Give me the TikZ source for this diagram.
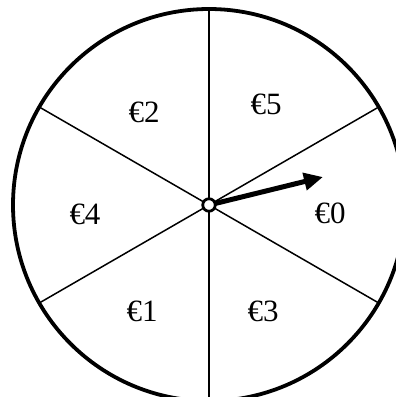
\documentclass[tikz,border=0pt]{standalone}
\usepackage{fontspec}
\setmainfont{Liberation Serif}
\usetikzlibrary{arrows.meta,calc}
\begin{document}
\begin{tikzpicture}[x=1pt,y=-1pt,
  lbl/.style={font=\fontsize{31}{33}\selectfont, inner sep=0pt},
  spoke/.style={line width=1.5pt},
  rim/.style={line width=3.8pt}]
\useasboundingbox (0,0) rectangle (396,397);
\fill[white] (0,0) rectangle (396,397);
\coordinate (c) at (209,205);
\draw[rim] (c) circle[radius=196];
\foreach \a/\n in {90/t,30/ur,-30/lr,-90/b,150/ul,210/ll}{
  \coordinate (\n) at ($(c)+(\a:196)$);
}
\foreach \n in {t,ur,lr,b,ul,ll}{
  \draw[spoke] (c) -- (\n);
}
\coordinate (tip) at (323,177);
\draw[line width=5pt,-{Triangle[length=19pt,width=17pt]}] (c) -- (tip);
\node[circle,draw,fill=white,line width=2.8pt,minimum size=12.5pt,inner sep=0pt] (hub) at (c) {};
\node[lbl] (l2) at (144,112) {€2};
\node[lbl] (l5) at (266,104) {€5};
\node[lbl] (l4) at (85,214) {€4};
\node[lbl] (l0) at (330,213) {€0};
\node[lbl] (l1) at (142,311) {€1};
\node[lbl] (l3) at (263,311) {€3};
\end{tikzpicture}
\end{document}
